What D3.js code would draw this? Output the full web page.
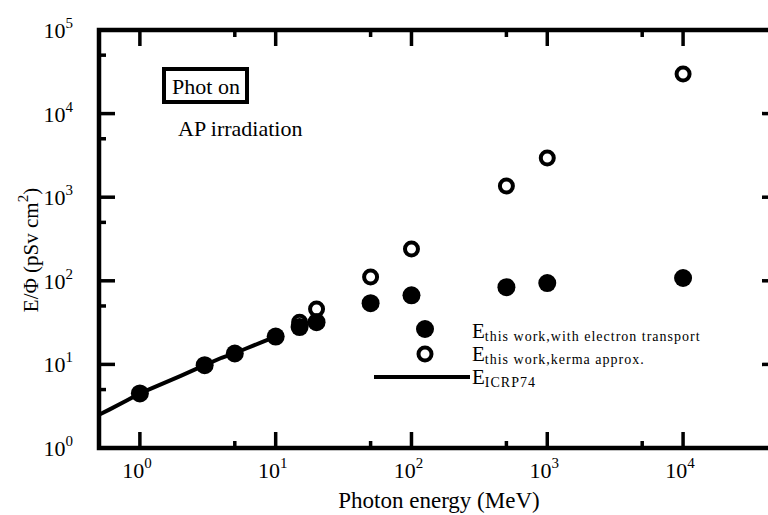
<!DOCTYPE html>
<html><head><meta charset="utf-8">
<script src="https://cdn.jsdelivr.net/npm/d3@7"></script>
<style>body{margin:0;background:#fff}svg{display:block}text{font-family:"Liberation Serif","Times New Roman",serif;fill:#000}</style>
</head><body>
<svg id="c" width="768" height="515"></svg>
<script>
const transportE = [1, 3, 5, 10, 15, 20, 50, 100, 500, 1000, 10000];
const transportV = [4.5, 9.8, 13.5, 21.5, 28, 32, 54, 67, 84, 94, 108];
const kermaE = [15, 20, 50, 100, 500, 1000, 10000];
const kermaV = [32, 46, 111, 240, 1360, 2940, 29800];
const icrpE = [0.5, 0.6, 0.8, 1, 2, 3, 4, 5, 6, 8, 10];
const icrpV = [2.5, 2.9, 3.7, 4.5, 7.3, 9.8, 12, 13.6, 15.4, 18.6, 21.5];
const xTicks = [1, 10, 100, 1000, 10000];
const xMinor = [5, 50, 500, 5000];
const yTicks = [1, 10, 100, 1000, 10000, 100000];
const yMinor = [5, 50, 500, 5000, 50000];

const svg = d3.select("#c");
const x = d3.scaleLog().domain([0.5, 5e4]).range([99, 778]);
const y = d3.scaleLog().domain([1, 1e5]).range([448, 30]);

const g = svg.append("g");
function tick(x1, y1, x2, y2) {
  g.append("line").attr("x1", x1).attr("x2", x2).attr("y1", y1).attr("y2", y2).attr("stroke", "#000").attr("stroke-width", 3.5);
}
xTicks.forEach(v => { tick(x(v), 448, x(v), 432); tick(x(v), 30, x(v), 46); });
xMinor.forEach(v => { tick(x(v), 448, x(v), 441); tick(x(v), 30, x(v), 37); });
yTicks.forEach(v => { tick(99, y(v), 115, y(v)); tick(778, y(v), 762, y(v)); });
yMinor.forEach(v => { tick(99, y(v), 106, y(v)); tick(778, y(v), 771, y(v)); });
svg.append("rect").attr("x", 99).attr("y", 30).attr("width", 679).attr("height", 418)
  .attr("fill", "none").attr("stroke", "#000").attr("stroke-width", 4.5);

xTicks.forEach((v, i) => {
  const t = svg.append("text").attr("x", x(v) - 3).attr("y", 478).attr("text-anchor", "middle").attr("font-size", 22);
  t.append("tspan").text("10");
  t.append("tspan").attr("dy", -10).attr("font-size", 15).text(String(i));
});
yTicks.forEach((v, i) => {
  const t = svg.append("text").attr("x", 73).attr("y", y(v) + 8).attr("text-anchor", "end").attr("font-size", 22);
  t.append("tspan").text("10");
  t.append("tspan").attr("dy", -10).attr("font-size", 15).text(String(i));
});

svg.append("text").attr("x", 439).attr("y", 508).attr("text-anchor", "middle").attr("font-size", 23).text("Photon energy (MeV)");
const yl = svg.append("text").attr("transform", "translate(38,250) rotate(-90)").attr("text-anchor", "middle").attr("font-size", 21);
yl.append("tspan").text("E/\u03a6 (pSv cm");
yl.append("tspan").attr("dy", -10).attr("font-size", 15).text("2");
yl.append("tspan").attr("dy", 10).text(")");

const line = d3.line().x(d => x(d[0])).y(d => y(d[1]));
svg.append("path").datum(icrpE.map((e, i) => [e, icrpV[i]])).attr("d", line)
  .attr("fill", "none").attr("stroke", "#000").attr("stroke-width", 4);

svg.append("g").selectAll("circle").data(kermaE.map((e, i) => [e, kermaV[i]])).join("circle")
  .attr("cx", d => x(d[0])).attr("cy", d => y(d[1])).attr("r", 6.5)
  .attr("fill", "#fff").attr("stroke", "#000").attr("stroke-width", 4);
svg.append("g").selectAll("circle").data(transportE.map((e, i) => [e, transportV[i]])).join("circle")
  .attr("cx", d => x(d[0])).attr("cy", d => y(d[1])).attr("r", 9).attr("fill", "#000");

svg.append("rect").attr("x", 164).attr("y", 69).attr("width", 83).attr("height", 33)
  .attr("fill", "none").attr("stroke", "#000").attr("stroke-width", 4);
svg.append("text").attr("x", 206).attr("y", 94).attr("text-anchor", "middle").attr("font-size", 22).text("Phot on");
svg.append("text").attr("x", 178).attr("y", 136).attr("font-size", 22).text("AP irradiation");

svg.append("circle").attr("cx", 425).attr("cy", 329).attr("r", 9).attr("fill", "#000");
svg.append("circle").attr("cx", 425).attr("cy", 354).attr("r", 6.5).attr("fill", "#fff").attr("stroke", "#000").attr("stroke-width", 4);
svg.append("line").attr("x1", 374).attr("x2", 470).attr("y1", 377).attr("y2", 377).attr("stroke", "#000").attr("stroke-width", 4);
const legs = [["this work,with electron transport", 338], ["this work,kerma approx.", 361], ["ICRP74", 384]];
legs.forEach(([s, yy]) => {
  const t = svg.append("text").attr("x", 472).attr("y", yy).attr("font-size", 21);
  t.append("tspan").text("E");
  t.append("tspan").attr("dy", 3).attr("font-size", 14).attr("letter-spacing", 1).text(s);
});
</script>
</body></html>
